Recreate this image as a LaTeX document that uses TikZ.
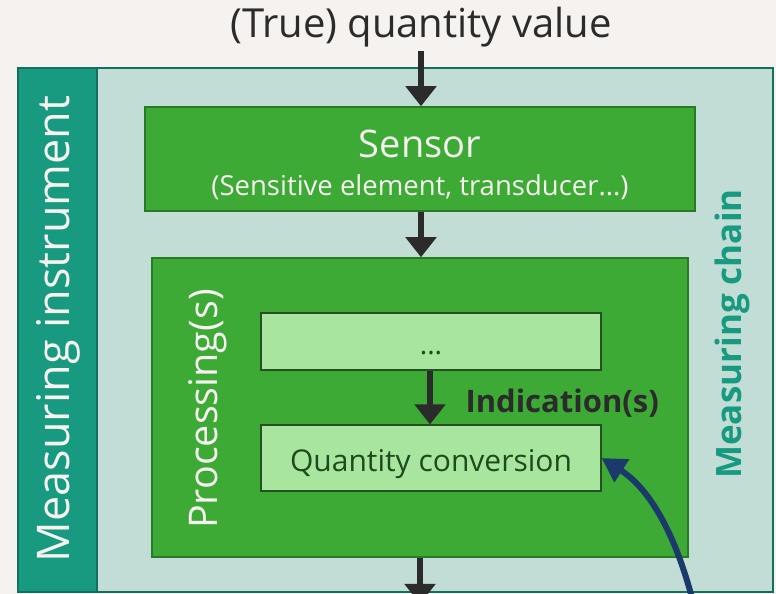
\documentclass[tikz,border=0pt]{standalone}
\usepackage{fontspec}
\setmainfont{Open Sans}
\usetikzlibrary{arrows.meta}
\definecolor{paperBg}{RGB}{245,242,239}
\definecolor{chainFill}{RGB}{194,221,214}
\definecolor{chainEdge}{RGB}{20,112,94}
\definecolor{bandTeal}{RGB}{23,154,128}
\definecolor{procGreen}{RGB}{61,170,53}
\definecolor{procEdge}{RGB}{40,122,36}
\definecolor{stepGreen}{RGB}{168,230,160}
\definecolor{stepEdge}{RGB}{38,80,34}
\definecolor{stepInk}{RGB}{31,74,27}
\definecolor{inkDark}{RGB}{43,43,43}
\definecolor{feedNavy}{RGB}{27,58,107}
\newcommand{\Fs}[1]{\fontsize{#1}{#1}\selectfont}

\begin{document}
\begin{tikzpicture}[x=1pt,y=1pt,
  greenbox/.style={draw=procEdge,fill=procGreen,line width=1.5pt},
  stepbox/.style={draw=stepEdge,fill=stepGreen,line width=1.2pt,minimum width=340pt,text=stepInk,text depth=0pt},
  flow/.style={-{Triangle[length=20pt,width=30pt]},inkDark,line width=6pt}]
\useasboundingbox (0,0) rectangle (776,594);
\clip (0,0) rectangle (776,594);
\fill[paperBg] (0,0) rectangle (776,594);
\node[text=inkDark,font=\Fs{40}] (quant) at (421,567) {(True) quantity value};
\draw[fill=chainFill,draw=chainEdge,line width=1.5pt] (18,2) rectangle (773,526);
\draw[fill=bandTeal,draw=chainEdge,line width=1.5pt] (18,2) rectangle (97,526);
\node[rotate=90,text=paperBg,font=\Fs{45}] (instr) at (58,265) {Measuring instrument};
\node[rotate=90,text=bandTeal,font=\bfseries\Fs{35}] (chain) at (732,260) {Measuring chain};
\node[greenbox,minimum width=550pt,minimum height=104pt] (sensor) at (420,435) {};
\node[text=paperBg,font=\Fs{38}] (senstitle) at (420,450) {Sensor};
\node[text=paperBg,font=\Fs{27.5}] (senssub) at (420,407) {(Sensitive element, transducer...)};
\node[greenbox,minimum width=536pt,minimum height=299pt] (proc) at (420,186.5) {};
\node[rotate=90,text=paperBg,font=\Fs{39.5}] (proctitle) at (208,185) {Processing(s)};
\node[stepbox,minimum height=57pt,text height=26pt,font=\Fs{28}] (dots) at (431,252.5) {...};
\node[stepbox,minimum height=66pt,text height=27pt,font=\Fs{30}] (qconv) at (431,136) {Quantity conversion};
\node[anchor=west,text=inkDark,font=\bfseries\Fs{31}] (indic) at (462,191) {Indication(s)};
\coordinate (out) at (420,-10);
\coordinate (feed) at (692,-4);
\draw[flow] (quant.south -| 421,0) -- (sensor.north -| 421,0);
\draw[flow] (sensor.south -| 421,0) -- (proc.north -| 421,0);
\draw[flow] (dots.south -| 430,0) -- (qconv.north -| 430,0);
\draw[flow] (proc.south -| 420,0) -- (out);
\draw[-{Triangle[length=24pt,width=26pt]},feedNavy,line width=6pt]
  (feed) .. controls (675,60) and (650,105) .. (qconv.east);
\end{tikzpicture}
\end{document}
